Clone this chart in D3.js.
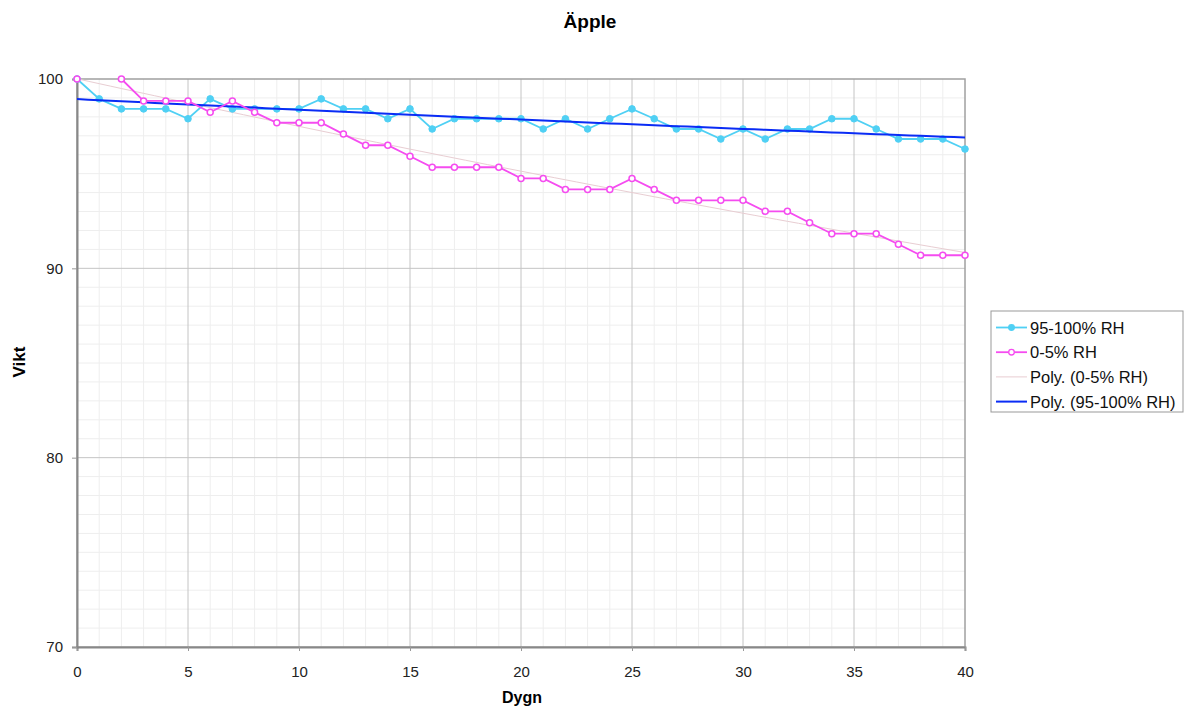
<!DOCTYPE html>
<html><head><meta charset="utf-8">
<script src="https://cdn.jsdelivr.net/npm/d3@7"></script>
<style>body{margin:0;background:#fff;} text{font-family:"Liberation Sans",Arial,sans-serif;}</style>
</head><body>
<svg id="c" width="1185" height="708"></svg>
<script>
const days = d3.range(0, 41);
const rh95 = [100,98.95,98.42,98.42,98.42,97.9,98.95,98.42,98.42,98.42,98.42,98.95,98.42,98.42,97.9,98.42,97.36,97.9,97.9,97.9,97.9,97.36,97.9,97.36,97.9,98.42,97.9,97.36,97.36,96.83,97.36,96.83,97.36,97.36,97.9,97.9,97.36,96.83,96.83,96.83,96.3];
const rh0 = [100,null,100,98.84,98.84,98.84,98.24,98.84,98.24,97.69,97.69,97.69,97.09,96.5,96.5,95.92,95.34,95.34,95.34,95.34,94.75,94.75,94.17,94.17,94.17,94.75,94.17,93.59,93.59,93.59,93.59,93.01,93.01,92.41,91.83,91.83,91.83,91.27,90.69,90.69,90.69];
const xTicks = [0,5,10,15,20,25,30,35,40];
const yTicks = [70,80,90,100];
const legendLabels = ["95-100% RH","0-5% RH","Poly. (0-5% RH)","Poly. (95-100% RH)"];

// order-2 polynomial least squares fit
function polyfit(xs, ys){
  const pts = xs.map((x,i)=>[x,ys[i]]).filter(p=>p[1]!=null);
  let S=[0,0,0,0,0], T=[0,0,0];
  pts.forEach(([x,y])=>{for(let k=0;k<5;k++)S[k]+=Math.pow(x,k);for(let k=0;k<3;k++)T[k]+=y*Math.pow(x,k);});
  const A=[[S[0],S[1],S[2],T[0]],[S[1],S[2],S[3],T[1]],[S[2],S[3],S[4],T[2]]];
  for(let i=0;i<3;i++){for(let j=i+1;j<3;j++){const f=A[j][i]/A[i][i];for(let k=i;k<4;k++)A[j][k]-=f*A[i][k];}}
  const c=[0,0,0];
  for(let i=2;i>=0;i--){let s=A[i][3];for(let k=i+1;k<3;k++)s-=A[i][k]*c[k];c[i]=s/A[i][i];}
  return x=>c[0]+c[1]*x+c[2]*x*x;
}

const svg = d3.select("#c");
const L=77, R=965, T=79, B=647;
const x = d3.scaleLinear().domain([0,40]).range([L,R]);
const y = d3.scaleLinear().domain([70,100]).range([B,T]);

// minor grid
const g = svg.append("g");
g.selectAll("line.mx").data(d3.range(1,40).filter(d=>d%5)).enter().append("line")
  .attr("x1",d=>x(d)).attr("x2",d=>x(d)).attr("y1",T).attr("y2",B).attr("stroke","#eeeeee").attr("stroke-width",1);
g.selectAll("line.my").data(d3.range(71,100).filter(d=>d%10)).enter().append("line")
  .attr("y1",d=>y(d)).attr("y2",d=>y(d)).attr("x1",L).attr("x2",R).attr("stroke","#eeeeee").attr("stroke-width",1);
// major grid
g.selectAll("line.Mx").data(xTicks.filter(d=>d>0&&d<40)).enter().append("line")
  .attr("x1",d=>x(d)).attr("x2",d=>x(d)).attr("y1",T).attr("y2",B).attr("stroke","#c4c4c4").attr("stroke-width",1);
g.selectAll("line.My").data(yTicks.filter(d=>d>70&&d<100)).enter().append("line")
  .attr("y1",d=>y(d)).attr("y2",d=>y(d)).attr("x1",L).attr("x2",R).attr("stroke","#c4c4c4").attr("stroke-width",1);

// frame
svg.append("rect").attr("x",L).attr("y",T).attr("width",R-L).attr("height",B-T).attr("fill","none").attr("stroke","#a0a0a0").attr("stroke-width",1.5);

// axes
const xAxis = svg.append("g").attr("transform",`translate(0,${B})`)
  .call(d3.axisBottom(x).tickValues(xTicks).tickSize(4).tickPadding(15));
const yAxis = svg.append("g").attr("transform",`translate(${L},0)`)
  .call(d3.axisLeft(y).tickValues(yTicks).tickSize(5).tickPadding(9));
[xAxis,yAxis].forEach(a=>{
  a.select(".domain").attr("stroke","#888").attr("stroke-width",2);
  a.selectAll(".tick line").attr("stroke","#999");
  a.selectAll("text").attr("font-size",15).attr("fill","#222").attr("font-family","Liberation Sans, Arial, sans-serif");
});

// trendlines
const f0 = polyfit(days, rh0), f95 = polyfit(days, rh95);
const fine = d3.range(0,40.01,0.5);
const line = d3.line().defined(d=>d[1]!=null).x(d=>x(d[0])).y(d=>y(d[1]));
svg.append("path").attr("d",line(fine.map(d=>[d,f0(d)]))).attr("fill","none").attr("stroke","#e8cdd2").attr("stroke-width",1);

// series
const pts95 = days.map((d,i)=>[d,rh95[i]]);
const pts0 = days.map((d,i)=>[d,rh0[i]]);
svg.append("path").attr("d",line(pts95)).attr("fill","none").attr("stroke","#4fd0f4").attr("stroke-width",1.8);
svg.selectAll("circle.c95").data(pts95).enter().append("circle")
  .attr("cx",d=>x(d[0])).attr("cy",d=>y(d[1])).attr("r",3.3).attr("fill","#4fd0f4").attr("stroke","#4fd0f4");
svg.append("path").attr("d",line(fine.map(d=>[d,f95(d)]))).attr("fill","none").attr("stroke","#0a2cf5").attr("stroke-width",2);
svg.append("path").attr("d",line(pts0)).attr("fill","none").attr("stroke","#f54cf0").attr("stroke-width",1.8);
svg.selectAll("circle.c0").data(pts0.filter(d=>d[1]!=null)).enter().append("circle")
  .attr("cx",d=>x(d[0])).attr("cy",d=>y(d[1])).attr("r",3).attr("fill","#fff").attr("stroke","#f54cf0").attr("stroke-width",1.5);

// titles
svg.append("text").attr("x",590).attr("y",28).attr("text-anchor","middle").attr("font-size",19).attr("font-weight","bold").text("Äpple");
svg.append("text").attr("x",522).attr("y",703).attr("text-anchor","middle").attr("font-size",16).attr("font-weight","bold").text("Dygn");
svg.append("text").attr("transform","translate(25,362) rotate(-90)").attr("text-anchor","middle").attr("font-size",17).attr("font-weight","bold").text("Vikt");

// legend
const lg = svg.append("g");
lg.append("rect").attr("x",991).attr("y",311).attr("width",192).attr("height",101).attr("fill","#fff").attr("stroke","#999").attr("stroke-width",1);
const styles = [
  {c:"#4fd0f4",w:1.8,m:"fill"},
  {c:"#f54cf0",w:1.8,m:"hollow"},
  {c:"#e8cdd2",w:1,m:null},
  {c:"#0a2cf5",w:2,m:null}
];
legendLabels.forEach((t,i)=>{
  const yy = 327.5 + i*24.7;
  const s = styles[i];
  lg.append("line").attr("x1",996).attr("x2",1027).attr("y1",yy).attr("y2",yy).attr("stroke",s.c).attr("stroke-width",s.w);
  if(s.m){lg.append("circle").attr("cx",1011.5).attr("cy",yy).attr("r",2.8)
    .attr("fill",s.m==="fill"?s.c:"#fff").attr("stroke",s.c).attr("stroke-width",1.3);}
  lg.append("text").attr("x",1030).attr("y",yy+6).attr("font-size",16.5).attr("fill","#111").text(t);
});
</script>
</body></html>
